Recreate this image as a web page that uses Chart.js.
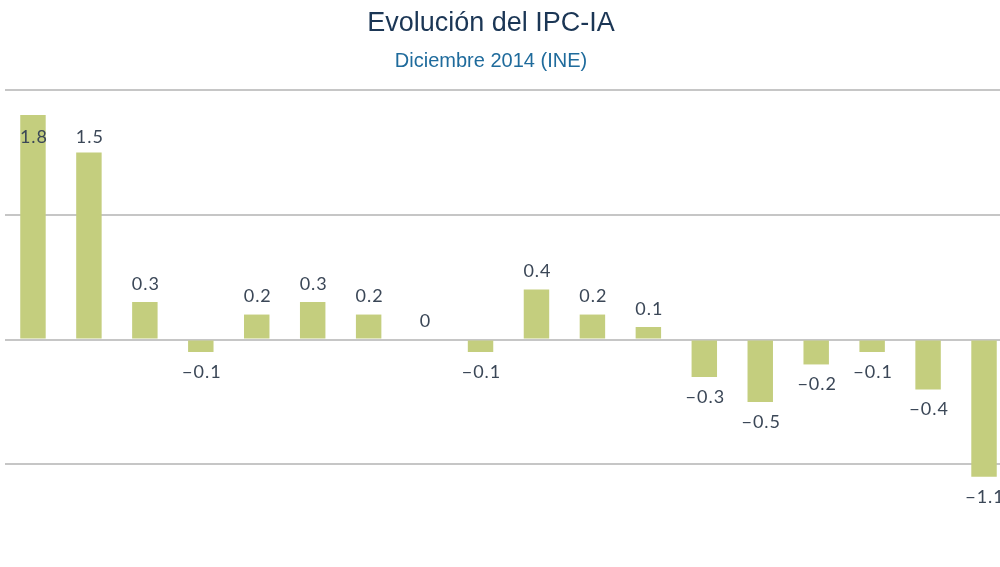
<!DOCTYPE html>
<html>
<head>
<meta charset="utf-8">
<script src="https://cdn.jsdelivr.net/npm/chart.js@4.4.1/dist/chart.umd.min.js"></script>
<style>
  html, body { margin:0; padding:0; background:#fff; overflow:hidden; }
  #wrap { position:relative; width:1000px; height:567px; overflow:hidden; }
  #box { position:absolute; left:0; top:0; width:1012px; height:600px; }
  #title { position:absolute; left:0; width:982px; top:7px; text-align:center;
           font-family:"Liberation Sans", Arial, sans-serif; font-size:27px; color:#1b3655; }
  #subtitle { position:absolute; left:0; width:982px; top:49px; text-align:center;
           font-family:"Liberation Sans", Arial, sans-serif; font-size:20px; color:#1f6b9c; }
</style>
</head>
<body>
<div id="wrap">
  <div id="box"><canvas id="c"></canvas></div>
  <div id="title">Evolución del IPC-IA</div>
  <div id="subtitle">Diciembre 2014 (INE)</div>
</div>
<script>
const categories = ["1","2","3","4","5","6","7","8","9","10","11","12","13","14","15","16","17","18"];
const values = [1.8, 1.5, 0.3, -0.1, 0.2, 0.3, 0.2, 0, -0.1, 0.4, 0.2, 0.1, -0.3, -0.5, -0.2, -0.1, -0.4, -1.1];
const yTicks = [-2, -1, 0, 1, 2];

const labelPlugin = {
  id: 'valueLabels',
  afterDatasetsDraw(chart) {
    const ctx = chart.ctx;
    const meta = chart.getDatasetMeta(0);
    ctx.save();
    ctx.font = '18px Lato, "Open Sans", sans-serif';
    ctx.letterSpacing = '1px';
    ctx.fillStyle = '#3b4757';
    ctx.textAlign = 'center';
    ctx.textBaseline = 'middle';
    meta.data.forEach((bar, i) => {
      const v = values[i];
      const txt = (v < 0 ? '\u2212' : '') + Math.abs(v).toString();
      let y;
      if (v >= 0) {
        y = Math.max(bar.y - 18, 137);
      } else {
        y = bar.y + 20;
      }
      ctx.fillText(txt, bar.x + 1, y);
    });
    ctx.restore();
  }
};

new Chart(document.getElementById('c'), {
  type: 'bar',
  data: {
    labels: categories,
    datasets: [{
      data: values,
      backgroundColor: '#c4ce7e',
      borderWidth: 0,
      categoryPercentage: 1,
      barPercentage: 0.455
    }]
  },
  options: {
    responsive: true,
    maintainAspectRatio: false,
    animation: false,
    layout: { padding: { top: 90, bottom: 11, left: 5, right: 0 } },
    plugins: { legend: { display: false }, tooltip: { enabled: false } },
    scales: {
      x: {
        display: true,
        grid: { display: false, drawTicks: false },
        border: { display: false },
        ticks: { display: false }
      },
      y: {
        min: -2, max: 2,
        afterBuildTicks(scale) { scale.ticks = yTicks.map(v => ({ value: v })); },
        grid: { color: '#c6c6c6', lineWidth: 2, drawTicks: false },
        border: { display: false },
        ticks: { display: false }
      }
    }
  },
  plugins: [labelPlugin]
});
</script>
</body>
</html>
